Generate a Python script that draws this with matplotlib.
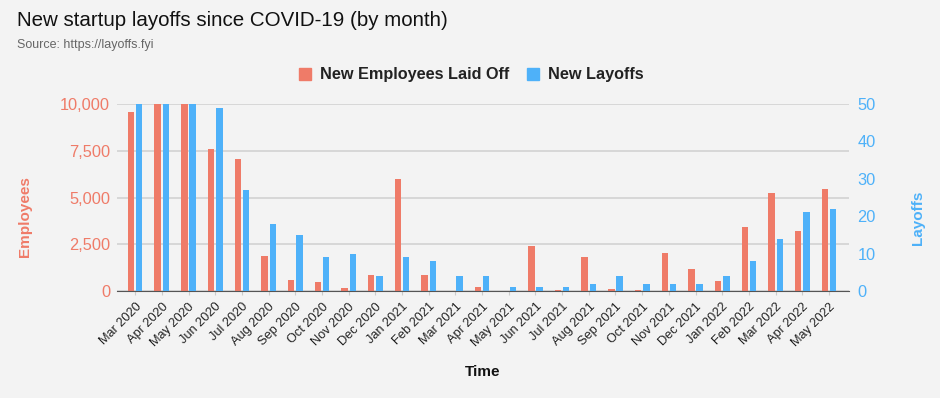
import numpy as np
import matplotlib.pyplot as plt
from matplotlib import ticker
from matplotlib.patches import Patch

# monthly data (employees capped at 10,000 by the axis)
months = ['Mar 2020', 'Apr 2020', 'May 2020', 'Jun 2020', 'Jul 2020', 'Aug 2020',
          'Sep 2020', 'Oct 2020', 'Nov 2020', 'Dec 2020', 'Jan 2021', 'Feb 2021',
          'Mar 2021', 'Apr 2021', 'May 2021', 'Jun 2021', 'Jul 2021', 'Aug 2021',
          'Sep 2021', 'Oct 2021', 'Nov 2021', 'Dec 2021', 'Jan 2022', 'Feb 2022',
          'Mar 2022', 'Apr 2022', 'May 2022']
employees = [9550, 10000, 10000, 7570, 7070, 1890, 570, 470, 180, 840, 5980, 840,
             20, 230, 0, 2390, 60, 1840, 120, 30, 2050, 1160, 520, 3430,
             5250, 3210, 5430]
layoffs = [50, 50, 50, 49, 27, 18, 15, 9, 10, 4, 9, 8,
           4, 4, 1, 1, 1, 2, 4, 2, 2, 2, 4, 8,
           14, 21, 22]

orange = '#ef7b68'
blue = '#4eb1f9'
bg = '#f3f3f3'

plt.rcParams['font.family'] = ['Liberation Sans', 'DejaVu Sans']

W, H = 940, 398
fig = plt.figure(figsize=(W / 100, H / 100), dpi=100, facecolor=bg)
ax = fig.add_axes([117 / W, 1 - 291 / H, (849 - 117) / W, (291 - 104) / H])
ax.set_facecolor(bg)
ax2 = ax.twinx()

x = np.arange(len(months))
ax.bar(x - 0.155, employees, width=0.24, color=orange, zorder=3)
ax2.bar(x + 0.155, layoffs, width=0.24, color=blue, zorder=3)

ax.set_xlim(-0.68, len(months) - 0.25)
ax.set_ylim(0, 10000)
ax2.set_ylim(0, 50)
ax.set_yticks([0, 2500, 5000, 7500, 10000])
ax2.set_yticks([0, 10, 20, 30, 40, 50])
ax.yaxis.set_major_formatter(ticker.FuncFormatter(lambda v, p: f'{int(v):,}'))

ax.grid(axis='y', color='#d2d2d2', linewidth=1.2, zorder=0)
ax.set_axisbelow(True)
for a in (ax, ax2):
    for s in a.spines.values():
        s.set_visible(False)
ax.spines['bottom'].set_visible(True)
ax.spines['bottom'].set_color('#555555')
ax.spines['bottom'].set_zorder(4)

ax.tick_params(axis='y', length=0, pad=5, labelsize=11.8, labelcolor=orange)
ax2.tick_params(axis='y', length=0, pad=6, labelsize=11.8, labelcolor=blue)
ax.set_xticks(x)
ax.set_xticklabels(months, rotation=45, ha='right', rotation_mode='anchor',
                   fontsize=9.2, color='#222222')
ax.tick_params(axis='x', length=3, color='#cccccc', pad=4)

fig.text(17 / W, 1 - 21 / H, 'New startup layoffs since COVID-19 (by month)',
         fontsize=14.8, color='#111111', va='center')
fig.text(17 / W, 1 - 45 / H, 'Source: https://layoffs.fyi',
         fontsize=9, color='#666666', va='center')

fig.text(25 / W, 1 - 217 / H, 'Employees', rotation=90, fontsize=11,
         fontweight='bold', color=orange, ha='center', va='center')
fig.text(918 / W, 1 - 218 / H, 'Layoffs', rotation=90, fontsize=11,
         fontweight='bold', color=blue, ha='center', va='center')
fig.text(483 / W, 1 - 372 / H, 'Time', fontsize=11, fontweight='bold',
         color='#111111', ha='center', va='center')

handles = [Patch(color=orange, label='New Employees Laid Off'),
           Patch(color=blue, label='New Layoffs')]
leg = fig.legend(handles=handles, loc='center', bbox_to_anchor=(471 / W, 1 - 75 / H),
                 ncol=2, frameon=False, handlelength=0.75, handleheight=0.75,
                 handletextpad=0.55, columnspacing=1.1,
                 prop={'weight': 'bold', 'size': 11.7})
for t in leg.get_texts():
    t.set_color('#222222')

fig.savefig('out.png', dpi=100, facecolor=bg)
